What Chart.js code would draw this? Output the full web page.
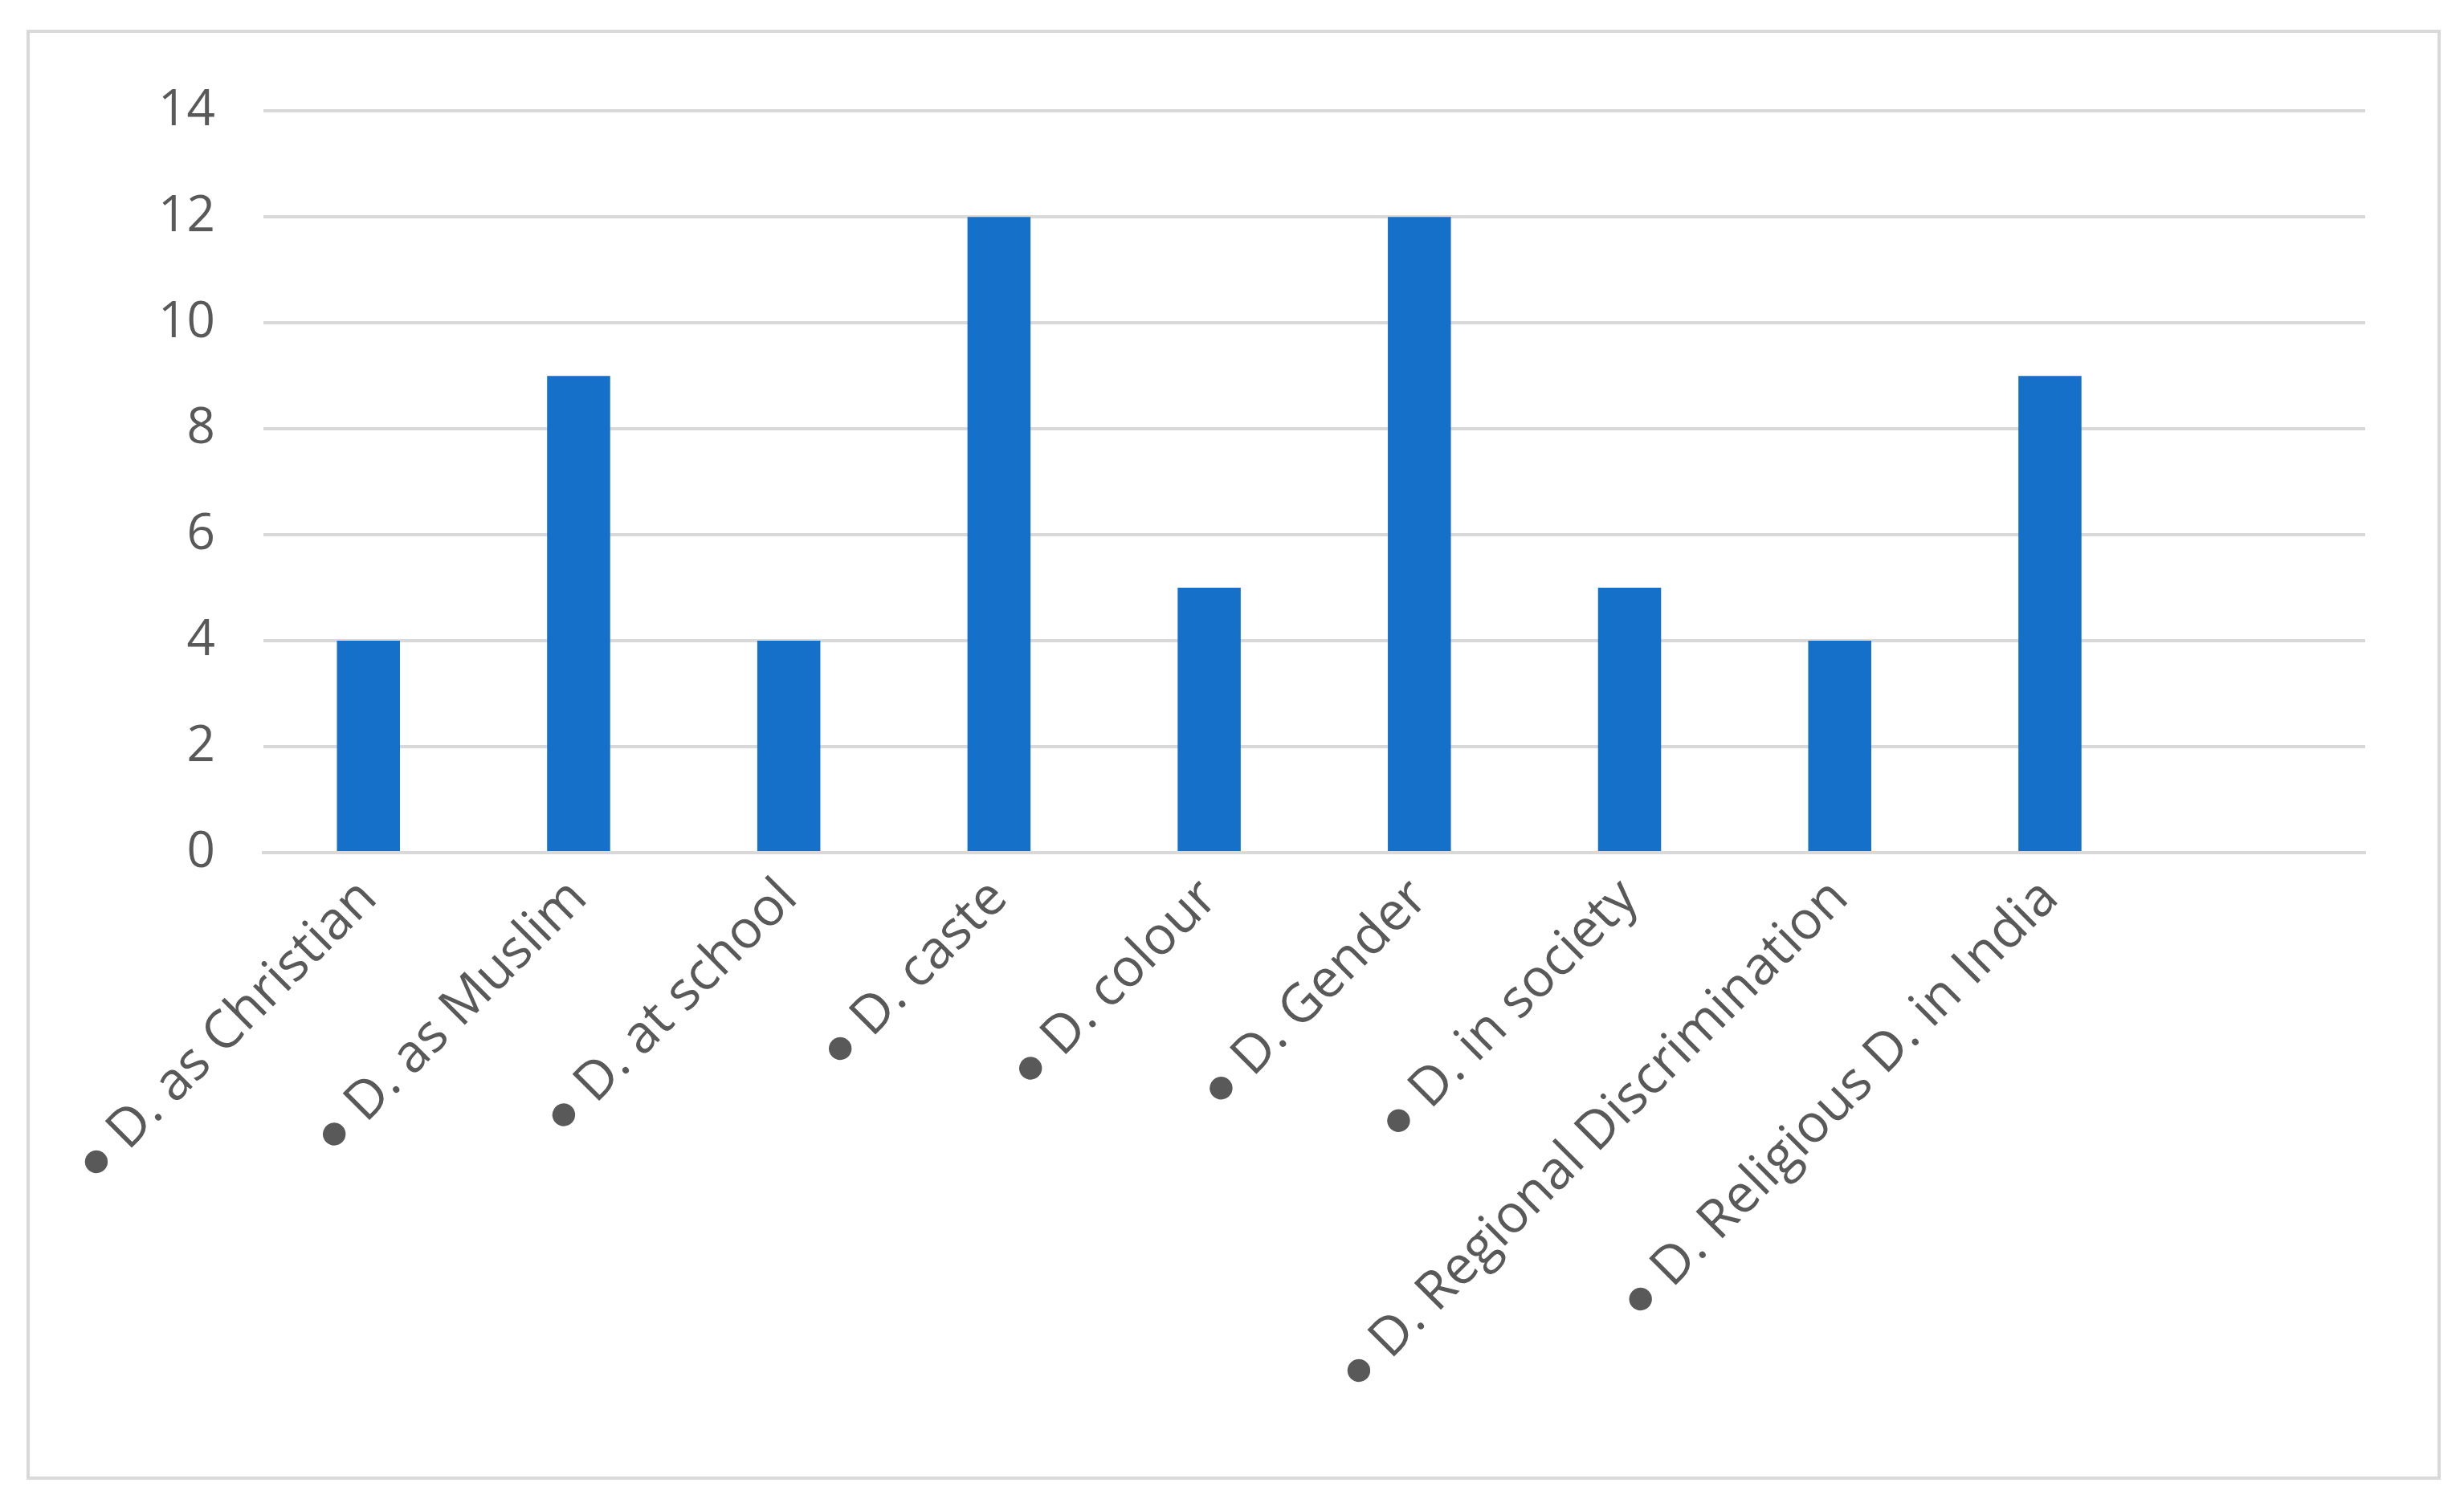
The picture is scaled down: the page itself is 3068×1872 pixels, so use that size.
<!DOCTYPE html>
<html>
<head>
<meta charset="utf-8">
<script src="https://cdn.jsdelivr.net/npm/chart.js@4"></script>
<style>
  html, body { margin: 0; padding: 0; background: #fff; }
  #box { position: absolute; left: 33px; top: 37px; width: 2998px; height: 1798px; border: 4px solid #d9d9d9; }
  #chart { display: block; }
</style>
</head>
<body>
<div id="box"><canvas id="chart" width="2998" height="1798"></canvas></div>
<script>
// Datos del gráfico
const categories = [
  '● D. as Christian', '● D. as Muslim', '● D. at school', '● D. caste',
  '● D. colour', '● D. Gender', '● D. in society',
  '● D. Regional Discrimination', '● D. Religious D. in India', ''
];
const counts = [4, 9, 4, 12, 5, 12, 5, 4, 9, null];

const ctx = document.getElementById('chart').getContext('2d');
new Chart(ctx, {
  type: 'bar',
  data: {
    labels: categories,
    datasets: [{
      data: counts,
      backgroundColor: '#1470c8',
      barPercentage: 0.3,
      categoryPercentage: 1
    }]
  },
  options: {
    responsive: false,
    animation: false,
    devicePixelRatio: 1,
    layout: { padding: { top: 60, right: 90, left: 100, bottom: 80 } },
    plugins: { legend: { display: false }, tooltip: { enabled: false } },
    scales: {
      x: {
        grid: { display: false },
        border: { color: '#d9d9d9', width: 4 },
        ticks: {
          color: '#595959',
          font: { family: 'Open Sans', size: 66 },
          minRotation: 45, maxRotation: 45,
          autoSkip: false,
          padding: 10
        }
      },
      y: {
        min: 0, max: 14,
        border: { display: false },
        grid: { color: '#d9d9d9', lineWidth: 4, drawTicks: false },
        ticks: {
          stepSize: 2,
          padding: 60,
          color: '#595959',
          font: { family: 'Open Sans', size: 62 }
        }
      }
    }
  }
});
</script>
</body>
</html>
